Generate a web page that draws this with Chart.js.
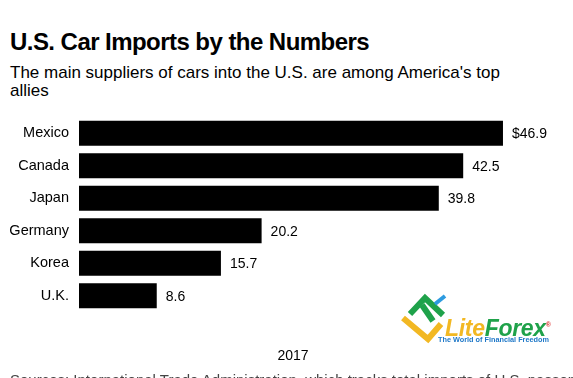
<!DOCTYPE html>
<html>
<head>
<meta charset="utf-8">
<script src="https://cdn.jsdelivr.net/npm/chart.js@4"></script>
<style>
  html, body { margin: 0; padding: 0; background: #fff; }
  body { width: 573px; height: 378px; position: relative; overflow: hidden;
         font-family: "Liberation Sans", Arial, sans-serif; color: #000; }
  #title { position: absolute; left: 10px; top: 30px; font-size: 24px; line-height: 24px; font-weight: bold; letter-spacing: -0.55px; white-space: nowrap; }
  #subtitle { position: absolute; left: 10px; top: 64px; width: 505px; font-size: 17px; line-height: 18px; }
  #chartBox { position: absolute; left: 0; top: 110px; width: 573px; height: 210px; }
  #year { position: absolute; left: 0; width: 586px; top: 347px; text-align: center; font-size: 14px; }
  #source { position: absolute; left: 10px; top: 371px; font-size: 15px; color: #444; white-space: nowrap; }
  #logo { position: absolute; left: 400px; top: 292px; width: 170px; height: 55px; }
  #logoText { position: absolute; left: 45px; top: 21px; font-size: 23px; line-height: 23px; font-weight: bold; font-style: italic; letter-spacing: -0.3px; white-space: nowrap; }
  #logoTag { position: absolute; left: 38px; top: 43px; font-size: 7.3px; font-weight: bold; color: #1f78c8; white-space: nowrap; }
</style>
</head>
<body>
<div id="title">U.S. Car Imports by the Numbers</div>
<div id="subtitle">The main suppliers of cars into the U.S. are among America's top allies</div>
<div id="chartBox"><canvas id="bars"></canvas></div>
<div id="logo">
  <svg width="50" height="52" viewBox="0 0 50 52" style="position:absolute;left:0;top:0">
    <polyline points="3,26 28,47 41,32" fill="none" stroke="#f2b823" stroke-width="6"/>
    <polyline points="10,22 25,6 43,23" fill="none" stroke="#1fa24a" stroke-width="6"/>
    <line x1="22" y1="13" x2="33" y2="29" stroke="#1fa24a" stroke-width="6"/>
    <line x1="35" y1="12" x2="45" y2="4" stroke="#2d9be0" stroke-width="4"/>
  </svg>
  <div id="logoText"><span style="color:#f2b823">Lite</span><span style="color:#1fa24a">Forex</span><sup style="font-size:7px;color:#d33;font-style:normal">®</sup></div>
  <div id="logoTag">The World of Financial Freedom</div>
</div>
<div id="year">2017</div>
<div id="source">Sources: International Trade Administration, which tracks total imports of U.S. passenger cars</div>

<script>
// data (billions of dollars, 2017)
const countries = ['Mexico', 'Canada', 'Japan', 'Germany', 'Korea', 'U.K.'];
const imports = [46.9, 42.5, 39.8, 20.2, 15.7, 8.6];
const valueLabels = ['$46.9', '42.5', '39.8', '20.2', '15.7', '8.6'];

// writes the value just past the end of each bar
const barValues = {
    id: 'barValues',
    afterDatasetsDraw(chart) {
        const ctx = chart.ctx;
        const meta = chart.getDatasetMeta(0);
        ctx.save();
        ctx.font = '14px "Liberation Sans", Arial, sans-serif';
        ctx.fillStyle = '#000';
        ctx.textAlign = 'left';
        ctx.textBaseline = 'middle';
        meta.data.forEach((bar, i) => {
            ctx.fillText(valueLabels[i], bar.x + 9, bar.y + 1);
        });
        ctx.restore();
    }
};

const chart = new Chart(document.getElementById('bars'), {
    type: 'bar',
    data: {
        labels: countries,
        datasets: [{
            data: imports,
            backgroundColor: '#000',
            borderWidth: 0,
            barPercentage: 0.77,
            categoryPercentage: 1.0
        }]
    },
    options: {
        indexAxis: 'y',
        responsive: true,
        maintainAspectRatio: false,
        animation: false,
        layout: { padding: { top: 7, bottom: 8, right: 42, left: 0 } },
        plugins: { legend: { display: false }, tooltip: { enabled: false } },
        scales: {
            x: { display: false, min: 0, max: 50 },
            y: {
                grid: { display: false, drawTicks: false },
                border: { display: false },
                ticks: {
                    color: '#000',
                    padding: 10,
                    font: { family: '"Liberation Sans", Arial, sans-serif', size: 14.5 }
                },
                afterFit(scale) {
                    scale.width = 79;
                    scale.paddingTop = 0;
                    scale.paddingBottom = 0;
                }
            }
        }
    },
    plugins: [barValues]
});
</script>
</body>
</html>
